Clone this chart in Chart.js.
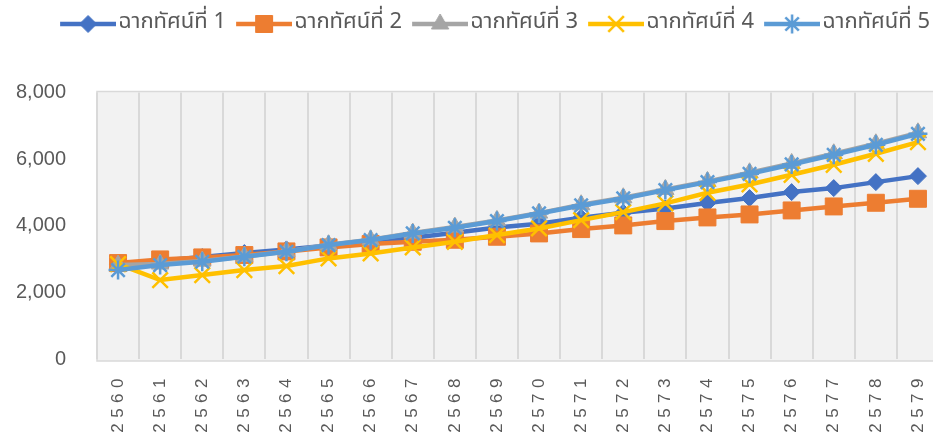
<!DOCTYPE html>
<html>
<head>
<meta charset="utf-8">
<script src="https://cdn.jsdelivr.net/npm/chart.js@4.4.1/dist/chart.umd.min.js"></script>
<style>
  html, body { margin: 0; padding: 0; background: #fff; overflow: hidden; }
  #wrap { width: 988px; height: 438px; }
</style>
</head>
<body>
<div id="wrap"><canvas id="myChart" width="988" height="438"></canvas></div>
<script>
// ข้อมูลจากกราฟ
const years = ['2560','2561','2562','2563','2564','2565','2566','2567','2568','2569',
               '2570','2571','2572','2573','2574','2575','2576','2577','2578','2579'];
const seriesNames = ['ฉากทัศน์ที่ 1','ฉากทัศน์ที่ 2','ฉากทัศน์ที่ 3','ฉากทัศน์ที่ 4','ฉากทัศน์ที่ 5'];
const scenario1 = [2850,2950,3060,3180,3290,3410,3530,3640,3790,3950,4060,4240,4390,4520,4680,4830,5010,5130,5310,5490];
const scenario2 = [2880,2990,3050,3120,3230,3350,3450,3520,3580,3670,3770,3900,4010,4140,4250,4340,4460,4580,4690,4810];
const scenario3 = [2820,2850,2940,3080,3230,3430,3580,3780,3960,4160,4380,4630,4840,5090,5330,5590,5870,6160,6460,6790];
const scenario4 = [2850,2370,2520,2670,2790,3020,3170,3350,3520,3720,3920,4170,4410,4670,4990,5240,5530,5830,6160,6510];
const scenario5 = [2670,2820,2920,3070,3220,3420,3570,3770,3940,4140,4370,4610,4820,5070,5310,5560,5840,6130,6430,6760];
const yTicks = [0, 2000, 4000, 6000, 8000];

// รูปแบบเส้น/จุด
const colors = ['#4472C4','#ED7D31','#A5A5A5','#FFC000','#5B9BD5'];
const markers = ['rectRot','rect','triangle','crossRot','star'];
const markerSize = [8.5, 12, 10, 11, 9.5];
const markerBorder = [1, 1, 1, 2.5, 2.5];
const allData = [scenario1, scenario2, scenario3, scenario4, scenario5];

const legendFont = { family: "'Noto Sans Thai', 'Noto Sans', 'DejaVu Sans', sans-serif", size: 22 };

// วัดความกว้างข้อความ legend เพื่อให้ระยะห่างแต่ละรายการเท่ากับต้นฉบับ
const mctx = document.createElement('canvas').getContext('2d');
mctx.font = legendFont.size + 'px ' + legendFont.family;
const textW = mctx.measureText(seriesNames[0]).width;
const itemPad = 9;
const boxW = 176 - legendFont.size / 2 - textW - itemPad;
const iconW = Math.round(boxW + legendFont.size / 2 + 7);

// ไอคอนของ legend: เส้น + marker
function legendIcon(i) {
  const c = document.createElement('canvas');
  c.width = iconW; c.height = 22;
  const ctx = c.getContext('2d');
  ctx.strokeStyle = colors[i];
  ctx.fillStyle = colors[i];
  ctx.lineWidth = 4.5;
  ctx.beginPath(); ctx.moveTo(iconW - 56, 11); ctx.lineTo(iconW, 11); ctx.stroke();
  ctx.lineWidth = markerBorder[i];
  Chart.helpers.drawPoint(ctx, {pointStyle: markers[i], radius: markerSize[i], borderWidth: markerBorder[i], rotation: 0}, iconW - 28, 11);
  return c;
}
const icons = colors.map((c, i) => legendIcon(i));

const datasets = allData.map((d, i) => ({
  label: seriesNames[i],
  data: d,
  xAxisID: 'x',
  yAxisID: 'y',
  borderColor: colors[i],
  backgroundColor: colors[i],
  borderWidth: 4.5,
  pointStyle: markers[i],
  pointRadius: markerSize[i],
  pointHoverRadius: markerSize[i],
  pointBorderWidth: markerBorder[i],
  pointBackgroundColor: colors[i],
  pointBorderColor: colors[i],
  tension: 0,
  order: 5 - i
}));

// พื้นหลังพื้นที่กราฟ
const plotBg = {
  id: 'plotBg',
  beforeDraw(chart) {
    const {ctx, chartArea: a} = chart;
    ctx.save();
    ctx.fillStyle = '#f2f2f2';
    ctx.fillRect(a.left, a.top - 1, a.right - a.left, a.bottom - a.top + 3);
    ctx.strokeStyle = '#d9d9d9';
    ctx.lineWidth = 1.5;
    ctx.strokeRect(a.left, a.top - 1, a.right - a.left, a.bottom - a.top + 3);
    ctx.restore();
  }
};

// เว้นระยะตัวอักษรของป้ายแกน x
const tickSpacing = {
  id: 'tickSpacing',
  beforeDraw(chart) {
    const s = chart.scales.x;
    if (s._spaced) return;
    const draw = s.drawLabels.bind(s);
    s.drawLabels = function (area) {
      this.ctx.save();
      this.ctx.letterSpacing = '5.5px';
      draw(area);
      this.ctx.restore();
    };
    s._spaced = true;
  }
};

const chart = new Chart('myChart', {
  type: 'line',
  data: { labels: years, datasets: datasets },
  plugins: [plotBg, tickSpacing],
  options: {
    responsive: false,
    animation: false,
    layout: { padding: { top: 4, right: 49, left: 0, bottom: 0 } },
    plugins: {
      tooltip: { enabled: false },
      legend: {
        position: 'top',
        align: 'end',
        labels: {
          usePointStyle: true,
          pointStyleWidth: boxW,
          padding: itemPad,
          color: '#595959',
          font: legendFont,
          sort: (a, b) => a.datasetIndex - b.datasetIndex,
          generateLabels: (ch) => ch.data.datasets.map((ds, i) => ({
            text: ds.label,
            pointStyle: icons[i],
            fillStyle: ds.borderColor,
            strokeStyle: ds.borderColor,
            lineWidth: 0,
            hidden: false,
            datasetIndex: i,
            fontColor: '#595959'
          }))
        }
      }
    },
    scales: {
      gap: {
        type: 'category',
        position: 'top',
        display: true,
        grid: { display: false },
        border: { display: false },
        ticks: { display: false },
        afterFit: (s) => { s.height = 47.5; }
      },
      x: {
        type: 'category',
        offset: true,
        grid: { display: true, color: '#d9d9d9', lineWidth: 2, drawTicks: false, offset: true },
        border: { display: false },
        ticks: {
          autoSkip: false,
          maxRotation: 90,
          minRotation: 90,
          padding: 14,
          color: '#595959',
          font: { family: "'Liberation Sans', sans-serif", size: 17 }
        },
        afterFit: (s) => { s.height = 79; }
      },
      y: {
        min: yTicks[0],
        max: yTicks[yTicks.length - 1],
        grid: { display: false, drawTicks: false },
        border: { display: false },
        ticks: {
          stepSize: yTicks[1] - yTicks[0],
          padding: 31,
          color: '#595959',
          font: { family: "'Liberation Sans', sans-serif", size: 20 },
          callback: (v) => v.toLocaleString('en-US')
        },
        afterFit: (s) => { s.width = 97; }
      }
    }
  }
});
</script>
</body>
</html>
